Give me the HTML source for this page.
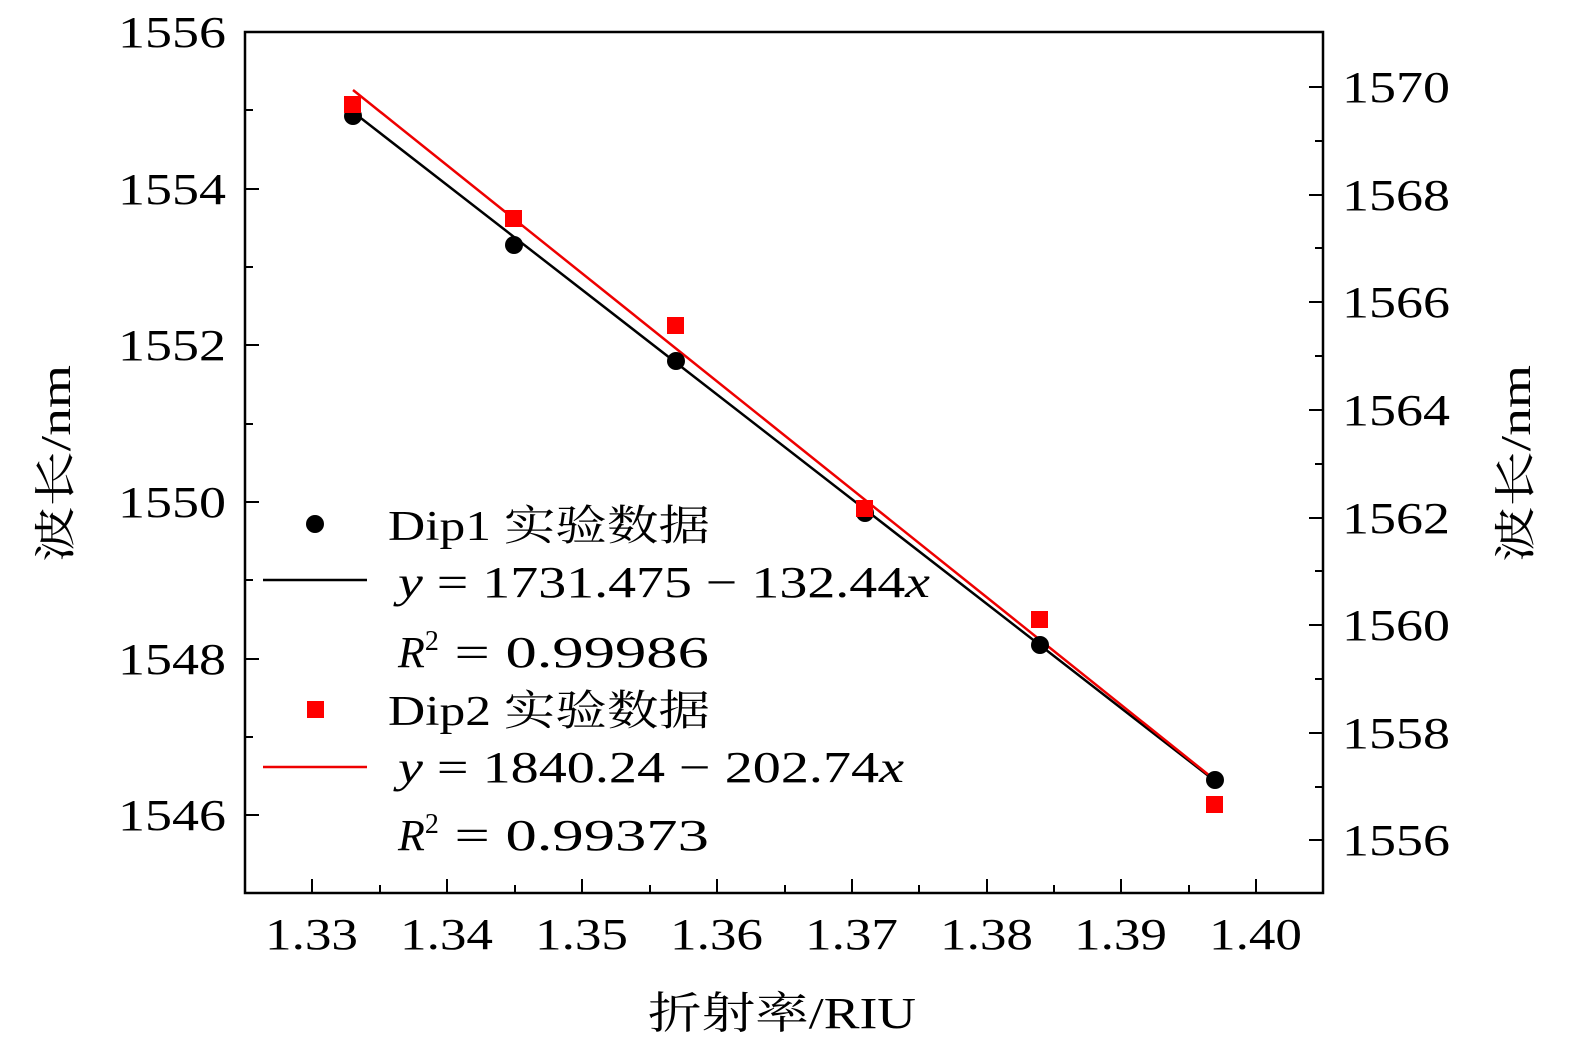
<!DOCTYPE html>
<html><head><meta charset="utf-8"><style>body{margin:0;background:#fff}svg{display:block}
text{font-family:"Liberation Serif","Noto Serif CJK SC",serif;fill:#000}</style></head><body>
<svg width="1575" height="1053" viewBox="0 0 1575 1053" xmlns="http://www.w3.org/2000/svg">
<rect x="245" y="32" width="1078" height="861" fill="none" stroke="#000" stroke-width="2.5"/>
<g stroke="#000" stroke-width="2">
<path d="M245 32h14M245 110h8M245 189h14M245 267h8M245 345h14M245 424h8M245 502h14M245 580h8M245 659h14M245 737h8M245 815h14"/>
<path d="M1323 87h-14M1323 141h-8M1323 195h-14M1323 248h-8M1323 302h-14M1323 356h-8M1323 410h-14M1323 464h-8M1323 518h-14M1323 571h-8M1323 625h-14M1323 679h-8M1323 733h-14M1323 787h-8M1323 840h-14"/>
<path d="M312 893v-14M380 893v-8M447 893v-14M515 893v-8M582 893v-14M650 893v-8M717 893v-14M785 893v-8M852 893v-14M919 893v-8M987 893v-14M1054 893v-8M1121 893v-14M1189 893v-8M1256 893v-14"/>
</g>
<g font-size="44" lengthAdjust="spacingAndGlyphs">
<text x="118" y="47" textLength="108" lengthAdjust="spacingAndGlyphs">1556</text><text x="118" y="204" textLength="108" lengthAdjust="spacingAndGlyphs">1554</text><text x="118" y="360" textLength="108" lengthAdjust="spacingAndGlyphs">1552</text>
<text x="118" y="517" textLength="108" lengthAdjust="spacingAndGlyphs">1550</text><text x="118" y="674" textLength="108" lengthAdjust="spacingAndGlyphs">1548</text><text x="118" y="830" textLength="108" lengthAdjust="spacingAndGlyphs">1546</text>
<text x="1342" y="102" textLength="108" lengthAdjust="spacingAndGlyphs">1570</text><text x="1342" y="210" textLength="108" lengthAdjust="spacingAndGlyphs">1568</text><text x="1342" y="317" textLength="108" lengthAdjust="spacingAndGlyphs">1566</text>
<text x="1342" y="425" textLength="108" lengthAdjust="spacingAndGlyphs">1564</text><text x="1342" y="533" textLength="108" lengthAdjust="spacingAndGlyphs">1562</text><text x="1342" y="640" textLength="108" lengthAdjust="spacingAndGlyphs">1560</text>
<text x="1342" y="748" textLength="108" lengthAdjust="spacingAndGlyphs">1558</text><text x="1342" y="855" textLength="108" lengthAdjust="spacingAndGlyphs">1556</text>
<text x="265" y="949" textLength="93" lengthAdjust="spacingAndGlyphs">1.33</text><text x="400" y="949" textLength="93" lengthAdjust="spacingAndGlyphs">1.34</text><text x="535" y="949" textLength="93" lengthAdjust="spacingAndGlyphs">1.35</text>
<text x="670" y="949" textLength="93" lengthAdjust="spacingAndGlyphs">1.36</text><text x="805" y="949" textLength="93" lengthAdjust="spacingAndGlyphs">1.37</text><text x="940" y="949" textLength="93" lengthAdjust="spacingAndGlyphs">1.38</text>
<text x="1074" y="949" textLength="93" lengthAdjust="spacingAndGlyphs">1.39</text><text x="1209" y="949" textLength="93" lengthAdjust="spacingAndGlyphs">1.40</text>
<text x="648" y="1028" textLength="268" lengthAdjust="spacingAndGlyphs">折射率/RIU</text>
</g>
<text font-size="42" transform="translate(70,562) rotate(-90)" textLength="197" lengthAdjust="spacingAndGlyphs">波长/nm</text>
<text font-size="42" transform="translate(1530,562) rotate(-90)" textLength="197" lengthAdjust="spacingAndGlyphs">波长/nm</text>
<line x1="353" y1="112" x2="1215" y2="781" stroke="#000" stroke-width="2.5"/>
<line x1="353" y1="90" x2="1215" y2="780" stroke="#e00" stroke-width="2.5"/>
<g fill="#000">
<circle cx="353" cy="116" r="9"/><circle cx="514" cy="245" r="9"/><circle cx="676" cy="361" r="9"/>
<circle cx="865" cy="513" r="9"/><circle cx="1040" cy="645" r="9"/><circle cx="1215" cy="780" r="9"/>
</g>
<g fill="#f00">
<rect x="344" y="96" width="17" height="17"/><rect x="505" y="210" width="17" height="17"/><rect x="667" y="317" width="17" height="17"/>
<rect x="856" y="500" width="17" height="17"/><rect x="1031" y="611" width="17" height="17"/><rect x="1206" y="796" width="17" height="17"/>
</g>
<circle cx="315" cy="524" r="9" fill="#000"/>
<text x="388" y="540" font-size="42" textLength="322" lengthAdjust="spacingAndGlyphs">Dip1 实验数据</text>
<line x1="263" y1="580" x2="367" y2="580" stroke="#000" stroke-width="2.5"/>
<text x="398" y="597" font-size="44" textLength="532" lengthAdjust="spacingAndGlyphs"><tspan font-style="italic">y</tspan> = 1731.475 − 132.44<tspan font-style="italic">x</tspan></text>
<text x="398" y="667" font-size="44"><tspan font-style="italic">R</tspan><tspan font-size="28" dy="-17">2</tspan><tspan dy="17" textLength="270" lengthAdjust="spacingAndGlyphs"> = 0.99986</tspan></text>
<rect x="307" y="701" width="17" height="17" fill="#f00"/>
<text x="388" y="725" font-size="42" textLength="322" lengthAdjust="spacingAndGlyphs">Dip2 实验数据</text>
<line x1="263" y1="767" x2="367" y2="767" stroke="#e00" stroke-width="2.5"/>
<text x="398" y="782" font-size="44" textLength="506" lengthAdjust="spacingAndGlyphs"><tspan font-style="italic">y</tspan> = 1840.24 − 202.74<tspan font-style="italic">x</tspan></text>
<text x="398" y="850" font-size="44"><tspan font-style="italic">R</tspan><tspan font-size="28" dy="-17">2</tspan><tspan dy="17" textLength="270" lengthAdjust="spacingAndGlyphs"> = 0.99373</tspan></text>
</svg>
</body></html>
